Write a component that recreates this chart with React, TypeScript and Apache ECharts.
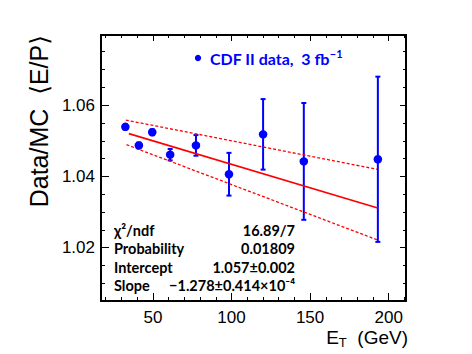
import React, { useEffect, useRef } from "react";
import * as echarts from "echarts";

// Measured points: E_T (GeV), Data/MC <E/P>, symmetric error
const etValues = [32.5, 41.1, 49.6, 61.0, 77.4, 98.4, 120.1, 146.0, 193.1];
const ratioValues = [1.0539, 1.0487, 1.0524, 1.0461, 1.0487, 1.0406, 1.0518, 1.0442, 1.0448];
const ratioErrors = [0.0007, 0.0008, 0.0008, 0.0016, 0.0029, 0.0060, 0.0099, 0.0164, 0.0232];

// Fit line and its error band (end points)
const fitLine = [[34.7, 1.0520], [193.0, 1.0311]];
const fitUpper = [[32.8, 1.0558], [192.5, 1.0420]];
const fitLower = [[33.2, 1.0489], [192.5, 1.0222]];

// Axes
const xMin = 17;
const xMax = 211;
const xMajorTicks = [50, 100, 150, 200];
const xMinorTicks = [20, 30, 40, 60, 70, 80, 90, 110, 120, 130, 140, 160, 170, 180, 190, 210];
const yMin = 1.005;
const yMax = 1.0797;
const yMajorTicks = [1.02, 1.04, 1.06];
const yMinorTicks = [1.01, 1.015, 1.025, 1.03, 1.035, 1.045, 1.05, 1.055, 1.065, 1.07, 1.075];

// Texts
const statLabels = ["χ²/ndf", "Probability", "Intercept", "Slope"];
const statValues = ["16.89/7", "0.01809", "1.057±0.002", "−1.278±0.414×10⁻⁴"];

const BLUE = "#0000ff";
const RED = "#ff0000";
const AXF = "'Liberation Sans', Arial, 'DejaVu Sans', sans-serif";
const STF = "Lato, 'DejaVu Sans', sans-serif";

export default function App() {
  const ref = useRef<HTMLDivElement>(null);
  useEffect(() => {
    if (!ref.current) return;
    const chart = echarts.init(ref.current, null, { renderer: "svg" });
    const pts = etValues.map((x, i) => [x, ratioValues[i]]);
    const errs = etValues.map((x, i) => [x, ratioValues[i], ratioValues[i] - ratioErrors[i], ratioValues[i] + ratioErrors[i]]);

    const mkX = (pos: string, major: boolean, showLine: boolean, labels: boolean, len: number) => ({
      type: "value", position: pos, min: xMin, max: xMax, gridIndex: 0,
      axisLine: { show: showLine, onZero: false, lineStyle: { color: "#000", width: 2 } },
      axisTick: { show: true, inside: true, length: len, customValues: major ? xMajorTicks : xMinorTicks, lineStyle: { color: "#000", width: 1 } },
      axisLabel: labels ? { show: true, customValues: xMajorTicks, color: "#000", fontSize: 17, fontFamily: AXF, margin: 8 } : { show: false },
      splitLine: { show: false },
    });
    const mkY = (pos: string, major: boolean, showLine: boolean, labels: boolean, len: number) => ({
      type: "value", position: pos, min: yMin, max: yMax, gridIndex: 0,
      axisLine: { show: showLine, onZero: false, lineStyle: { color: "#000", width: 2 } },
      axisTick: { show: true, inside: true, length: len, customValues: major ? yMajorTicks : yMinorTicks, lineStyle: { color: "#000", width: 1 } },
      axisLabel: labels ? { show: true, customValues: yMajorTicks, color: "#000", fontSize: 17, fontFamily: AXF, margin: 6, formatter: (v: number) => v.toFixed(2) } : { show: false },
      splitLine: { show: false },
    });

    chart.setOption({
      animation: false,
      backgroundColor: "#fff",
      grid: { left: 101, top: 35, right: 66, bottom: 53, containLabel: false },
      xAxis: [
        mkX("bottom", true, true, true, 8),
        mkX("bottom", false, false, false, 4),
        mkX("top", true, true, false, 6),
        mkX("top", false, false, false, 3),
      ],
      yAxis: [
        mkY("left", true, true, true, 8),
        mkY("left", false, false, false, 4),
        mkY("right", true, true, false, 6),
        mkY("right", false, false, false, 3),
      ],
      series: [
        {
          type: "line", data: fitUpper, symbol: "none", silent: true,
          lineStyle: { color: RED, width: 1.3, type: [3, 2] },
        },
        {
          type: "line", data: fitLower, symbol: "none", silent: true,
          lineStyle: { color: RED, width: 1.3, type: [3, 2] },
        },
        {
          type: "line", data: fitLine, symbol: "none", silent: true,
          lineStyle: { color: RED, width: 1.6 },
        },
        {
          type: "custom", data: errs, silent: true,
          renderItem: (params: any, api: any) => {
            const x = api.value(0);
            const lo = api.coord([x, api.value(2)]);
            const hi = api.coord([x, api.value(3)]);
            const st = { stroke: BLUE, lineWidth: 2 };
            return {
              type: "group",
              children: [
                { type: "line", shape: { x1: lo[0], y1: lo[1], x2: hi[0], y2: hi[1] }, style: st },
                { type: "line", shape: { x1: lo[0] - 2.5, y1: lo[1], x2: lo[0] + 2.5, y2: lo[1] }, style: st },
                { type: "line", shape: { x1: hi[0] - 2.5, y1: hi[1], x2: hi[0] + 2.5, y2: hi[1] }, style: st },
              ],
            };
          },
          z: 3,
        },
        {
          type: "scatter", data: pts, symbol: "circle", symbolSize: 8.5,
          itemStyle: { color: BLUE, opacity: 1 }, z: 4,
        },
      ],
      graphic: [
        {
          type: "text", x: 39, y: 35, rotation: Math.PI / 2,
          style: {
            text: "Data/MC  ⟨E/P⟩", fill: "#000", fontSize: 25, fontFamily: AXF,
            align: "right", verticalAlign: "middle", textAlign: "right", textVerticalAlign: "middle",
          },
        },
        {
          type: "text", x: 408, y: 337,
          style: {
            text: "{a|E}{s|T}{a|  (GeV)}", fill: "#000",
            align: "right", verticalAlign: "middle", textAlign: "right", textVerticalAlign: "middle",
            rich: {
              a: { fontSize: 19, fontFamily: AXF, fill: "#000", lineHeight: 22 },
              s: { fontSize: 13, fontFamily: AXF, fill: "#000", padding: [10, 0, 0, 0], lineHeight: 22 },
            },
          },
        },
        { type: "circle", shape: { cx: 198, cy: 58, r: 3.2 }, style: { fill: BLUE } },
        {
          type: "text", x: 210, y: 58,
          style: {
            text: "{a|CDF II data,  3 fb}{s|−1}", fill: BLUE,
            align: "left", verticalAlign: "middle", textAlign: "left", textVerticalAlign: "middle",
            rich: {
              a: { fontSize: 16, fontFamily: STF, fontWeight: "bold", fill: BLUE, lineHeight: 20 },
              s: { fontSize: 11, fontFamily: STF, fontWeight: "bold", fill: BLUE, padding: [0, 0, 9, 0], lineHeight: 20 },
            },
          },
        },
        ...statLabels.map((t, i) => ({
          type: "text", x: 114, y: 230 + i * 18.6,
          style: {
            text: t, fill: "#000", fontSize: 14.5, fontFamily: STF, fontWeight: "bold",
            align: "left", verticalAlign: "middle", textAlign: "left", textVerticalAlign: "middle",
          },
        })),
        ...statValues.map((t, i) => ({
          type: "text", x: 295, y: 230 + i * 18.6,
          style: {
            text: t, fill: "#000", fontSize: 14.5, fontFamily: STF, fontWeight: "bold",
            align: "right", verticalAlign: "middle", textAlign: "right", textVerticalAlign: "middle",
          },
        })),
      ],
    });
    return () => chart.dispose();
  }, []);
  return <div ref={ref} style={{ width: 472, height: 354, position: "absolute", left: 0, top: 0 }} />;
}
